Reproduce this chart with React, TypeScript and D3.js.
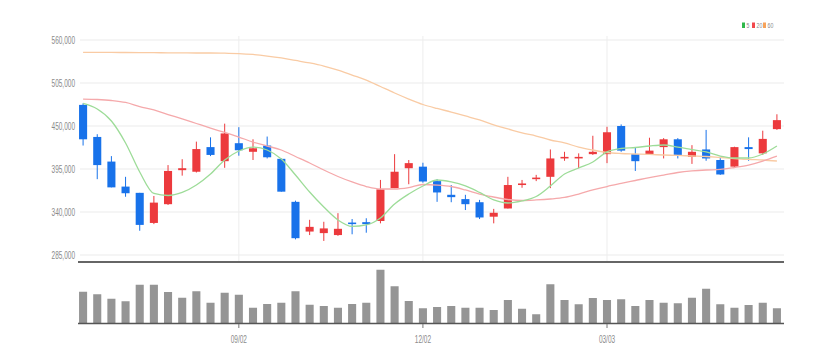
import React from 'react';
import * as d3 from 'd3';

const width = 835;
const height = 364;

// candles (price in KRW)
const opens = [477000, 436000, 404500, 372500, 364500, 326000, 350000, 393500, 391500, 423000,
  405000, 428000, 417000, 425000, 408000, 353000, 315000, 313000, 310500, 326500,
  327000, 328500, 370500, 396000, 398000, 379500, 362000, 356500, 352500, 334000,
  344500, 374500, 382000, 385000, 408500, 408500, 414000, 414000, 450000, 414000,
  414000, 423000, 433000, 410500, 420000, 406500, 398000, 423000, 415000, 446000];
const closes = [433000, 400000, 371500, 364000, 323500, 352000, 392500, 396000, 420500, 413000,
  440500, 419000, 421500, 410000, 366000, 306500, 321000, 319000, 318500, 324500,
  324500, 369000, 391500, 402500, 379000, 365000, 359000, 350000, 333000, 339000,
  374500, 376500, 384000, 408500, 410500, 410500, 417000, 442000, 418500, 405000,
  418500, 433000, 413000, 417000, 408500, 388000, 423000, 420500, 433500, 457500];
const highs = [479000, 439500, 411500, 385000, 364500, 360500, 400000, 407500, 430000, 435500,
  453000, 448500, 433000, 436500, 408500, 354500, 330000, 327500, 338500, 331000,
  332000, 381000, 414000, 406500, 403000, 382000, 374500, 362000, 355500, 344000,
  385000, 381000, 387500, 420000, 417000, 415000, 437500, 449000, 452000, 423000,
  435000, 434500, 434500, 425500, 445000, 410500, 423500, 435500, 444000, 465000];
const lows = [425000, 382000, 371500, 359500, 316000, 324500, 349000, 386500, 390500, 411500,
  396500, 412000, 406500, 408500, 366000, 305000, 310500, 303000, 309500, 311500,
  313500, 325500, 370500, 375500, 377500, 353000, 352500, 342500, 331000, 325500,
  344500, 371000, 379500, 370500, 405500, 396000, 413000, 402500, 417000, 392500,
  414000, 408500, 408500, 401500, 405500, 387500, 396500, 405500, 413000, 445000];
const volumes = [125000, 115000, 97000, 87000, 153000, 153000, 124000, 101000, 127000, 81000,
  121000, 113000, 61000, 76000, 81000, 127000, 73000, 68000, 61000, 76000,
  81000, 213000, 147000, 88000, 59000, 64000, 68000, 61000, 61000, 52000,
  92000, 57000, 35000, 155000, 92000, 75000, 100000, 92000, 95000, 68000,
  92000, 81000, 79000, 101000, 137000, 75000, 61000, 72000, 81000, 59000];

// moving averages as shown on the chart
const ma5 = [478800, 471700, 456400, 428300, 391200, 363700, 361100, 365000, 374500, 388600,
  406500, 418000, 423100, 419300, 407800, 387300, 365600, 346400, 329800, 321500,
  323400, 332300, 350200, 363000, 373300, 380900, 378400, 373300, 365000, 355400,
  351500, 354100, 359800, 373300, 388600, 396300, 404000, 416800, 421200, 422500,
  424400, 425700, 423100, 419900, 416800, 411600, 409100, 409100, 414200, 424400];
const ma20 = [484500, 483900, 482600, 480100, 474900, 470500, 464700, 459000, 453200, 447400,
  441700, 435900, 429500, 424400, 419300, 411000, 402700, 393700, 385400, 378400,
  372600, 369400, 369400, 371300, 375200, 374500, 372600, 368200, 363000, 359200,
  356000, 354700, 355400, 356600, 358600, 363000, 368200, 372600, 376500, 380300,
  384100, 387300, 390500, 392500, 393700, 394400, 396900, 400100, 405200, 411600];
const ma60 = [544300, 544300, 544100, 544000, 543900, 543800, 543600, 543500, 543400, 543400,
  543100, 542700, 541500, 539500, 537000, 533800, 530600, 526700, 521600, 515200,
  508800, 500500, 492200, 484500, 477500, 472400, 467900, 462800, 457700, 451300,
  446200, 441100, 437200, 432100, 428300, 423100, 419300, 416100, 414800, 414200,
  413600, 412900, 412300, 411600, 411000, 409700, 408400, 407200, 406500, 405200];

const priceTicks = [285000, 340000, 395000, 450000, 505000, 560000];
const tickIndex = [11, 24, 37];
const tickLabels = ['09/02', '12/02', '03/03'];
const legendLabels = ['5', '20', '60'];

const UP = '#ec3a3d';
const DOWN = '#1872ea';
const maColors = ['#9ddc98', '#f5a9ab', '#f9cba4'];
const legendColors = ['#2fb84a', '#f2484c', '#f7a25a'];
const font = "'Liberation Sans', Arial, sans-serif";
const squeeze = 0.65; // the labels use a narrow face

export default function App() {
  const idx = d3.range(opens.length);
  const x = d3.scaleBand<number>()
    .domain(idx)
    .range([76, 784])
    .paddingInner(0.43)
    .paddingOuter(0.215);
  const cx = (i: number) => (x(i) as number) + x.bandwidth() / 2;

  const y = d3.scaleLinear().domain([285000, 560000]).range([255, 40]);
  const yv = d3.scaleLinear().domain([0, 232000]).range([323, 265]);

  const line = (vals: number[]) => d3.line<number>()
    .x((d, i) => cx(i))
    .y((d) => y(d))
    .curve(d3.curveMonotoneX)(vals) as string;

  const left = 78;
  const right = 784;

  return (
    <svg width={width} height={height} style={{ position: 'absolute', left: 0, top: 0, background: '#fff' }}>
      {/* grid */}
      {priceTicks.map((t) => (
        <g key={t}>
          <line x1={left + 2} x2={right} y1={y(t)} y2={y(t)} stroke="#ebebeb" strokeWidth={1} />
          <text transform={`translate(75,${y(t) + 3.5}) scale(${squeeze},1)`} textAnchor="end"
            fontSize={10} fontFamily={font} fill="#8a8a8a">
            {d3.format(',')(t)}
          </text>
        </g>
      ))}
      {tickIndex.map((i) => (
        <line key={i} x1={cx(i)} x2={cx(i)} y1={36} y2={261} stroke="#ededed" strokeWidth={1} />
      ))}

      {/* candles */}
      {idx.map((i) => {
        const up = closes[i] >= opens[i];
        const c = up ? UP : DOWN;
        const top = y(Math.max(opens[i], closes[i]));
        const bot = y(Math.min(opens[i], closes[i]));
        return (
          <g key={i}>
            <line x1={cx(i)} x2={cx(i)} y1={y(highs[i])} y2={y(lows[i])} stroke={c} strokeWidth={1} />
            <rect x={x(i)} y={top} width={x.bandwidth()} height={Math.max(1.5, bot - top)} fill={c} />
          </g>
        );
      })}

      {/* moving averages */}
      {[ma60, ma20, ma5].map((m, k) => (
        <path key={k} d={line(m)} fill="none" stroke={maColors[2 - k]} strokeWidth={1.3} />
      ))}

      <line x1={left} x2={right} y1={262} y2={262} stroke="#333" strokeWidth={1.6} />

      {/* volume */}
      {idx.map((i) => (
        <rect key={i} x={x(i)} y={yv(volumes[i])} width={x.bandwidth()} height={yv(0) - yv(volumes[i])}
          fill="#959595" />
      ))}
      <line x1={left} x2={right} y1={323.5} y2={323.5} stroke="#555" strokeWidth={1.4} />
      {tickIndex.map((i, k) => (
        <g key={i}>
          <line x1={cx(i)} x2={cx(i)} y1={324} y2={328} stroke="#777" strokeWidth={1} />
          <text transform={`translate(${cx(i)},343) scale(${squeeze},1)`} textAnchor="middle"
            fontSize={10} fontFamily={font} fill="#8a8a8a">
            {tickLabels[k]}
          </text>
        </g>
      ))}

      {/* legend */}
      <g transform="translate(742,25)">
        {legendLabels.map((l, k) => {
          const off = [0, 10, 21][k];
          return (
            <g key={l} transform={`translate(${off},0)`}>
              <rect x={0} y={-2.5} width={3} height={5.5} fill={legendColors[k]} />
              <text transform={`translate(4.5,3) scale(${squeeze},1)`} fontSize={8}
                fontFamily={font} fill="#8a8a8a">{l}</text>
            </g>
          );
        })}
      </g>
    </svg>
  );
}
